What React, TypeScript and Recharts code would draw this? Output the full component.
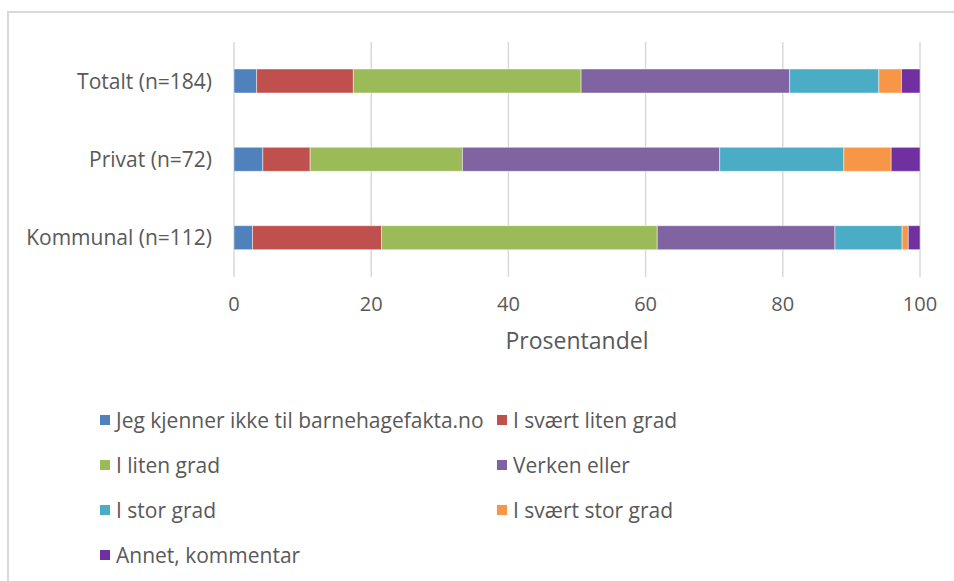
import React from 'react';
import { BarChart, Bar, XAxis, YAxis, CartesianGrid, Legend } from 'recharts';

const categories = ['Totalt (n=184)', 'Privat (n=72)', 'Kommunal (n=112)'];

const seriesNames = [
  'Jeg kjenner ikke til barnehagefakta.no',
  'I svært liten grad',
  'I liten grad',
  'Verken eller',
  'I stor grad',
  'I svært stor grad',
  'Annet, kommentar',
];

// percentages per category (Totalt, Privat, Kommunal)
const ikkeKjent = [3.3, 4.2, 2.7];
const svaertLiten = [14.1, 6.9, 18.8];
const liten = [33.2, 22.2, 40.2];
const verken = [30.4, 37.5, 25.9];
const stor = [13.0, 18.1, 9.8];
const svaertStor = [3.3, 6.9, 0.9];
const annet = [2.7, 4.2, 1.8];

const xTicks = [0, 20, 40, 60, 80, 100];

const seriesValues = [ikkeKjent, svaertLiten, liten, verken, stor, svaertStor, annet];
const colors = ['#4F81BD', '#C0504D', '#9BBB59', '#8064A2', '#4BACC6', '#F79646', '#7030A0'];

const data = categories.map((name, i) => {
  const row: Record<string, string | number> = { name };
  seriesNames.forEach((s, j) => {
    row[s] = seriesValues[j][i];
  });
  return row;
});

const FONT = '"Open Sans", sans-serif';
const TEXT = '#595959';

const LegendBox = () => (
  <div
    style={{
      width: 954,
      height: 184,
      display: 'grid',
      gridTemplateColumns: '397px 400px',
      gridAutoRows: '45px',
      paddingLeft: 100,
      boxSizing: 'border-box',
      fontFamily: FONT,
      fontSize: 21,
      color: TEXT,
    }}
  >
    {seriesNames.map((s, i) => (
      <div key={s} style={{ display: 'flex', alignItems: 'center', whiteSpace: 'nowrap' }}>
        <span style={{ width: 10, height: 10, background: colors[i], marginRight: 6, flex: 'none' }} />
        <span>{s}</span>
      </div>
    ))}
  </div>
);

export default function App() {
  return (
    <div style={{ position: 'fixed', left: 0, top: 0, width: 954, height: 581, overflow: 'hidden', background: '#fff' }}>
      <div
        style={{
          position: 'absolute',
          left: 7,
          top: 11,
          right: 0,
          bottom: 0,
          borderTop: '2px solid #d9d9d9',
          borderLeft: '2px solid #d9d9d9',
        }}
      />
      <div style={{ position: 'absolute', left: 0, top: 0 }}>
        <BarChart
          width={954}
          height={581}
          data={data}
          layout="vertical"
          margin={{ top: 42, right: 34, left: 0, bottom: 0 }}
          barSize={24}
        >
          <CartesianGrid horizontal={false} stroke="#d9d9d9" strokeWidth={1.5} />
          <XAxis
            type="number"
            domain={[0, 100]}
            ticks={xTicks}
            allowDataOverflow
            axisLine={false}
            tickLine={false}
            tickMargin={14}
            height={120}
            tick={{ fill: TEXT, fontSize: 20, fontFamily: FONT }}
            label={{
              value: 'Prosentandel',
              position: 'insideTop',
              offset: 56,
              fill: TEXT,
              fontSize: 23,
              fontFamily: FONT,
            }}
          />
          <YAxis
            type="category"
            dataKey="name"
            width={234}
            axisLine={false}
            tickLine={false}
            tickMargin={16}
            tick={{ fill: TEXT, fontSize: 21, fontFamily: FONT }}
          />
          <Legend
            verticalAlign="bottom"
            layout="horizontal"
            content={() => <LegendBox />}
            wrapperStyle={{ left: 0, bottom: 0 }}
          />
          {seriesNames.map((s, i) => (
            <Bar
              key={s}
              dataKey={s}
              stackId="a"
              fill={colors[i]}
              stroke="#ffffff"
              strokeOpacity={0.6}
              strokeWidth={0.75}
              isAnimationActive={false}
            />
          ))}
        </BarChart>
      </div>
    </div>
  );
}
